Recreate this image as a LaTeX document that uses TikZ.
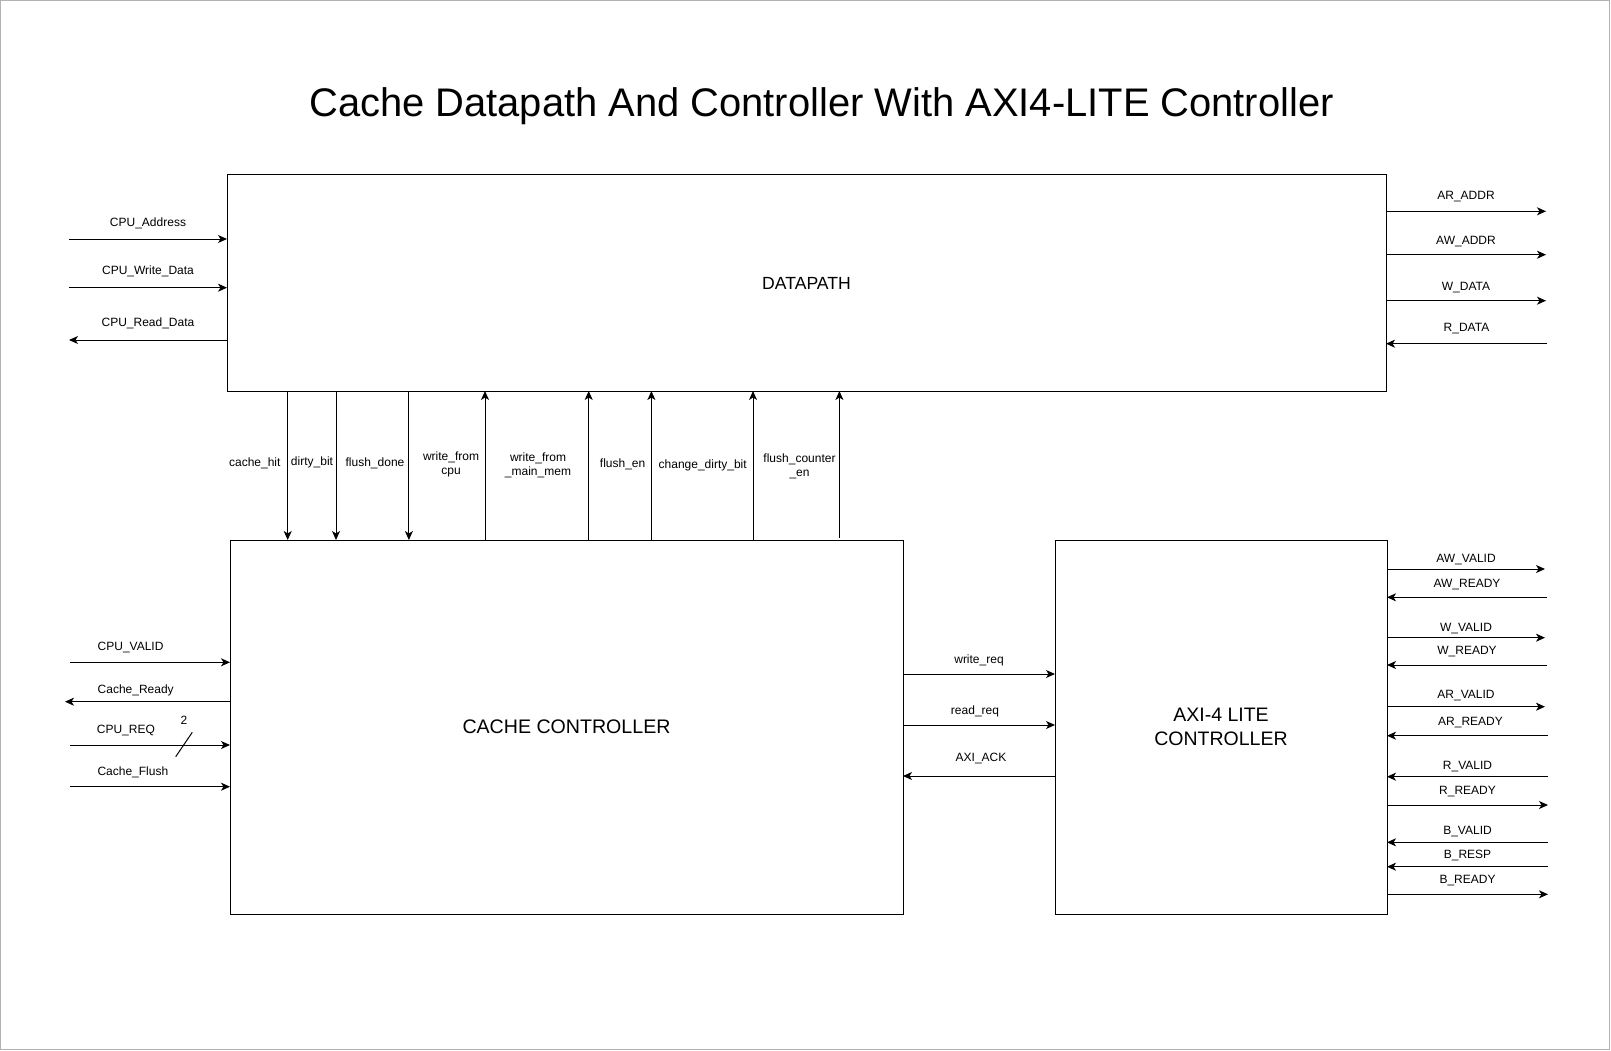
\documentclass[tikz,border=0pt]{standalone}
\usepackage{fontspec}
\setmainfont{Liberation Sans}
\usetikzlibrary{arrows.meta,positioning}
\tikzstyle{block}=[
	rectangle,
	draw=black,
	line width=1pt,
	inner sep=0pt,
	outer sep=0pt
]
\tikzstyle{signal}=[
	->,
	>={Stealth[length=9pt,width=8pt,inset=2.5pt]},
	line width=1pt
]
\tikzstyle{sigtext}=[
	font=\fontsize{12}{14.4}\selectfont,
	inner sep=0pt,
	align=center
]
\tikzstyle{signame}=[
	sigtext,
	anchor=base
]

\begin{document}
\begin{tikzpicture}[x=1pt,y=-1pt]
\useasboundingbox (0,0) rectangle (1611,1051);
\draw[gray!60, line width=1pt] (0.5,0.5) rectangle (1609.5,1049.5);
\node [anchor=base, inner sep=0pt, font=\fontsize{39.9}{47}\selectfont] (Title) at (821.5,116.5) {Cache Datapath And Controller With AXI4-LITE Controller};

% blocks
\node [block, minimum width=1159pt, minimum height=216pt, font=\fontsize{17.6}{21}\selectfont] (Datapath) at (806.5,283) {DATAPATH};
\node [block, minimum width=673pt, minimum height=374pt, font=\fontsize{19.6}{23}\selectfont] (CacheCtrl) [below=149pt of Datapath.south west, anchor=north west, xshift=3pt] {CACHE CONTROLLER};
\node [block, minimum width=332pt, minimum height=374pt, align=center, font=\fontsize{19.5}{24.3}\selectfont] (AxiCtrl) [right=152pt of CacheCtrl.north east, anchor=north west] {AXI-4 LITE\\CONTROLLER};

% cpu side of the datapath
\coordinate (CpuAddr) at (69,239);
\coordinate (CpuWdata) at (69,287.7);
\coordinate (CpuRdata) at (69,340);
\draw [signal] (CpuAddr) -- (CpuAddr -| Datapath.west) node [signame, midway, yshift=13pt] (CpuAddrText) {CPU\_Address};
\draw [signal] (CpuWdata) -- (CpuWdata -| Datapath.west) node [signame, midway, yshift=13.4pt] (CpuWdataText) {CPU\_Write\_Data};
\draw [signal] (CpuRdata -| Datapath.west) -- (CpuRdata) node [signame, midway, yshift=14pt] (CpuRdataText) {CPU\_Read\_Data};

% memory side of the datapath
\coordinate (ArAddr) at (1546,211.3);
\coordinate (AwAddr) at (1546,254.7);
\coordinate (Wdata) at (1546,300.7);
\coordinate (Rdata) at (1547,343.7);
\draw [signal] (ArAddr -| Datapath.east) -- (ArAddr) node [signame, midway, yshift=12pt] (ArAddrText) {AR\_ADDR};
\draw [signal] (AwAddr -| Datapath.east) -- (AwAddr) node [signame, midway, yshift=10.7pt] (AwAddrText) {AW\_ADDR};
\draw [signal] (Wdata -| Datapath.east) -- (Wdata) node [signame, midway, yshift=10.7pt] (WdataText) {W\_DATA};
\draw [signal] (Rdata) -- (Rdata -| Datapath.east) node [signame, midway, yshift=12.7pt] (RdataText) {R\_DATA};

% status and control between datapath and controller
\coordinate (CacheHit) at (287.7,465);
\coordinate (DirtyBit) at (336,465);
\coordinate (FlushDone) at (408.9,465);
\coordinate (WriteCpu) at (485,465);
\coordinate (WriteMem) at (588.7,465);
\coordinate (FlushEn) at (651.4,465);
\coordinate (ChangeDirty) at (753,465);
\coordinate (FlushCnt) at (839.4,465);
\draw [signal] (CacheHit |- Datapath.south) -- (CacheHit |- CacheCtrl.north);
\draw [signal] (DirtyBit |- Datapath.south) -- (DirtyBit |- CacheCtrl.north);
\draw [signal] (FlushDone |- Datapath.south) -- (FlushDone |- CacheCtrl.north);
\draw [signal] (WriteCpu |- CacheCtrl.north) -- (WriteCpu |- Datapath.south);
\draw [signal] (WriteMem |- CacheCtrl.north) -- (WriteMem |- Datapath.south);
\draw [signal] (FlushEn |- CacheCtrl.north) -- (FlushEn |- Datapath.south);
\draw [signal] (ChangeDirty |- CacheCtrl.north) -- (ChangeDirty |- Datapath.south);
\draw [signal] ([yshift=2pt]FlushCnt |- CacheCtrl.north) -- (FlushCnt |- Datapath.south);
\node [sigtext] (CacheHitText) at (254.8,463.3) {cache\_hit};
\node [sigtext] (DirtyBitText) at (312,462.3) {dirty\_bit};
\node [sigtext] (FlushDoneText) at (375,463.3) {flush\_done};
\node [sigtext] (WriteCpuText) at (451,464.4) {write\_from\\cpu};
\node [sigtext] (WriteMemText) at (538,465.4) {write\_from\\\_main\_mem};
\node [sigtext] (FlushEnText) at (622.6,464.3) {flush\_en};
\node [sigtext] (ChangeDirtyText) at (702.7,465.4) {change\_dirty\_bit};
\node [sigtext] (FlushCntText) at (799.5,466.4) {flush\_counter\\\_en};

% cpu side of the controller
\coordinate (CpuValid) at (70,662.3);
\coordinate (CacheReady) at (65,701.7);
\coordinate (CpuReq) at (70,745);
\coordinate (CacheFlush) at (70,786.7);
\draw [signal] (CpuValid) -- (CpuValid -| CacheCtrl.west);
\draw [signal] (CacheReady -| CacheCtrl.west) -- (CacheReady);
\draw [signal] (CpuReq) -- (CpuReq -| CacheCtrl.west);
\draw [signal] (CacheFlush) -- (CacheFlush -| CacheCtrl.west);
\node [signame, anchor=base west] (CpuValidText) at (97.5,650) {CPU\_VALID};
\node [signame, anchor=base west] (CacheReadyText) at (97.5,693.3) {Cache\_Ready};
\node [signame, anchor=base west] (CpuReqText) at (96.7,733.3) {CPU\_REQ};
\node [signame, anchor=base west] (CacheFlushText) at (97.3,775) {Cache\_Flush};
\coordinate (ReqBusTop) at (192.3,732.3);
\coordinate (ReqBusBot) at (175.7,756.7);
\draw [line width=1pt] (ReqBusTop) -- (ReqBusBot);
\node [sigtext] (ReqWidth) at (184,720.7) {2};

% controller to axi controller
\coordinate (WriteReq) at (979,674);
\coordinate (ReadReq) at (979,725);
\coordinate (AxiAck) at (979,776);
\draw [signal] (WriteReq -| CacheCtrl.east) -- (WriteReq -| AxiCtrl.west) node [signame, midway, yshift=10.7pt] (WriteReqText) {write\_req};
\draw [signal] (ReadReq -| CacheCtrl.east) -- (ReadReq -| AxiCtrl.west) node [signame, midway, xshift=-4pt, yshift=10.7pt] (ReadReqText) {read\_req};
\draw [signal] (AxiAck -| AxiCtrl.west) -- (AxiAck -| CacheCtrl.east) node [signame, midway, xshift=2pt, yshift=14.3pt] (AxiAckText) {AXI\_ACK};

% axi4-lite channels
\coordinate (AwValid) at (1545,569);
\coordinate (AwReady) at (1547,597.3);
\coordinate (WValid) at (1545,637.7);
\coordinate (WReady) at (1547,665);
\coordinate (ArValid) at (1545,706.7);
\coordinate (ArReady) at (1548,735.7);
\coordinate (RValid) at (1548,776.7);
\coordinate (RReady) at (1548,805);
\coordinate (BValid) at (1548,842.3);
\coordinate (BResp) at (1548,866.7);
\coordinate (BReady) at (1548,894.3);
\draw [signal] (AwValid -| AxiCtrl.east) -- (AwValid) node [signame, midway, yshift=6.7pt] (AwValidText) {AW\_VALID};
\draw [signal] (AwReady) -- (AwReady -| AxiCtrl.east) node [signame, midway, yshift=10pt] (AwReadyText) {AW\_READY};
\draw [signal] (WValid -| AxiCtrl.east) -- (WValid) node [signame, midway, yshift=6.7pt] (WValidText) {W\_VALID};
\draw [signal] (WReady) -- (WReady -| AxiCtrl.east) node [signame, midway, yshift=10.7pt] (WReadyText) {W\_READY};
\draw [signal] (ArValid -| AxiCtrl.east) -- (ArValid) node [signame, midway, yshift=8.1pt] (ArValidText) {AR\_VALID};
\draw [signal] (ArReady) -- (ArReady -| AxiCtrl.east) node [signame, midway, xshift=3pt, yshift=10.7pt] (ArReadyText) {AR\_READY};
\draw [signal] (RValid) -- (RValid -| AxiCtrl.east) node [signame, midway, yshift=7.4pt] (RValidText) {R\_VALID};
\draw [signal] (RReady -| AxiCtrl.east) -- (RReady) node [signame, midway, yshift=10.7pt] (RReadyText) {R\_READY};
\draw [signal] (BValid) -- (BValid -| AxiCtrl.east) node [signame, midway, yshift=8pt] (BValidText) {B\_VALID};
\draw [signal] (BResp) -- (BResp -| AxiCtrl.east) node [signame, midway, yshift=8.4pt] (BRespText) {B\_RESP};
\draw [signal] (BReady -| AxiCtrl.east) -- (BReady) node [signame, midway, yshift=10.7pt] (BReadyText) {B\_READY};
\end{tikzpicture}
\end{document}
